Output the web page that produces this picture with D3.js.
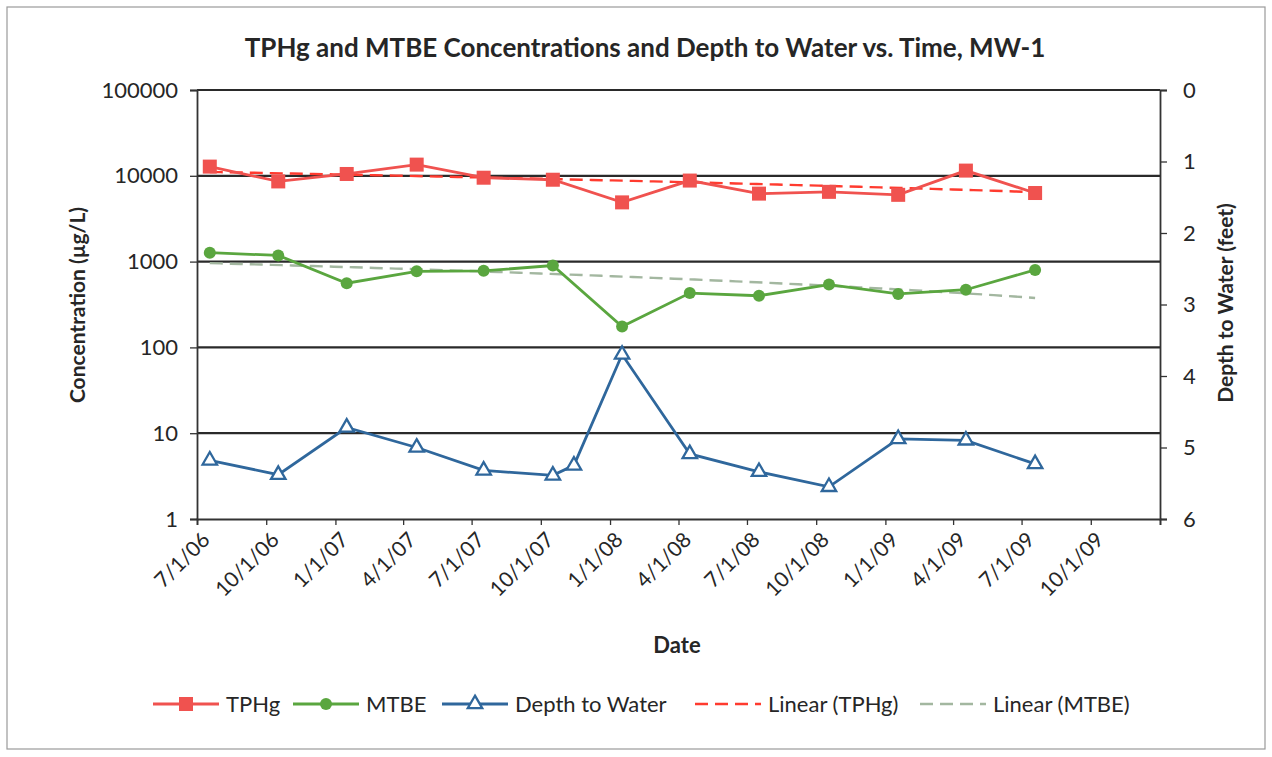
<html>
<head>
<title>MW-1 concentrations</title>
<script src="https://cdn.jsdelivr.net/npm/d3@7"></script>
<style>
    body { margin: 0; padding: 0; background: #fff; }
    text { font-family: Lato, "Open Sans", sans-serif; fill: #262626; }
</style>
</head>
<body>
<svg id="chart" width="1272" height="757"></svg>
<script>
// ---- data ----
const sampleDates = ["2006-07-18", "2006-10-17", "2007-01-16", "2007-04-19", "2007-07-17", "2007-10-17",
    "2008-01-17", "2008-04-16", "2008-07-17", "2008-10-18", "2009-01-18", "2009-04-18", "2009-07-19"];
const tphg = [12800, 8600, 10500, 13500, 9500, 9000, 4900, 8800, 6200, 6500, 6000, 11500, 6300];
const mtbe = [1270, 1180, 560, 770, 780, 900, 175, 430, 400, 540, 420, 470, 800];

const depthDates = ["2006-07-18", "2006-10-17", "2007-01-16", "2007-04-19", "2007-07-17", "2007-10-17", "2007-11-14",
    "2008-01-17", "2008-04-16", "2008-07-17", "2008-10-18", "2009-01-18", "2009-04-18", "2009-07-19"];
const depth = [5.18, 5.38, 4.72, 5.0, 5.32, 5.39, 5.25, 3.7, 5.09, 5.34, 5.55, 4.88, 4.9, 5.23];

const concTicks = [1, 10, 100, 1000, 10000, 100000];
const depthTicks = [0, 1, 2, 3, 4, 5, 6];
const dateRange = ["2006-07-01", "2010-01-01"];
const lastLabel = "2009-10-01";

const chartTitle = "TPHg and MTBE Concentrations and Depth to Water vs. Time, MW-1";
const legendNames = ["TPHg", "MTBE", "Depth to Water", "Linear (TPHg)", "Linear (MTBE)"];

const red = "#f0524f", green = "#5aa63f", blue = "#2f679c", redTrend = "#ff3b2f", greenTrend = "#a3b7a0";

// ---- setup ----
const svg = d3.select("#chart");
const plot = { left: 197, right: 1160, top: 90, bottom: 519 };
const parse = d3.timeParse("%Y-%m-%d");

const x = d3.scaleTime().domain(dateRange.map(parse)).range([plot.left, plot.right]);
const yConc = d3.scaleLog().domain([1, 100000]).range([plot.bottom, plot.top]);
const yDepth = d3.scaleLinear().domain([0, 6]).range([plot.top, plot.bottom]);

svg.append("rect")
    .attr("x", 7).attr("y", 7).attr("width", 1258).attr("height", 742)
    .attr("fill", "none").attr("stroke", "#9a9a9a").attr("stroke-width", 1.2);

svg.append("text")
    .attr("x", 645).attr("y", 57)
    .attr("text-anchor", "middle")
    .attr("font-size", 26).attr("font-weight", "bold")
    .text(chartTitle);

// gridlines
svg.append("g").selectAll("line").data(concTicks.slice(1))
    .join("line")
    .attr("x1", plot.left).attr("x2", plot.right)
    .attr("y1", d => yConc(d)).attr("y2", d => yConc(d))
    .attr("stroke", "#2a2a2a").attr("stroke-width", 2.2);

// axes
const leftAxis = svg.append("g")
    .attr("transform", "translate(" + plot.left + ",0)")
    .call(d3.axisLeft(yConc).tickValues(concTicks).tickFormat(d3.format("d")).tickSize(7).tickPadding(12));

const rightAxis = svg.append("g")
    .attr("transform", "translate(" + plot.right + ",0)")
    .call(d3.axisRight(yDepth).tickValues(depthTicks).tickFormat(d3.format("d")).tickSize(7).tickPadding(16));

const xTicks = d3.timeMonth.every(3).range(parse(dateRange[0]), d3.timeDay.offset(parse(dateRange[1]), 1));
const bottomAxis = svg.append("g")
    .attr("transform", "translate(0," + plot.bottom + ")")
    .call(d3.axisBottom(x).tickValues(xTicks).tickSize(6).tickFormat(""));

[leftAxis, rightAxis, bottomAxis].forEach(g => {
    g.select(".domain").attr("stroke", "#333").attr("stroke-width", 1.8);
    g.selectAll(".tick line").attr("stroke", "#333").attr("stroke-width", 1.3);
    g.selectAll(".tick text").attr("font-size", 22).attr("font-family", "Lato, sans-serif").attr("fill", "#262626");
});

// rotated date labels
const fmt = d3.timeFormat("%-m/%-d/%y");
svg.append("g").selectAll("text").data(xTicks.filter(d => d <= parse(lastLabel)))
    .join("text")
    .attr("transform", d => "translate(" + (x(d) + 9) + "," + (plot.bottom + 17) + ") rotate(-45)")
    .attr("text-anchor", "end")
    .attr("dy", "0.35em")
    .attr("font-size", 21)
    .text(d => fmt(d));

// axis titles
svg.append("text")
    .attr("x", 677).attr("y", 653)
    .attr("text-anchor", "middle")
    .attr("font-size", 22).attr("font-weight", "bold")
    .text("Date");

svg.append("text")
    .attr("transform", "translate(85,305) rotate(-90)")
    .attr("text-anchor", "middle")
    .attr("font-size", 21).attr("font-weight", "bold")
    .text("Concentration (µg/L)");

svg.append("text")
    .attr("transform", "translate(1233,303) rotate(-90)")
    .attr("text-anchor", "middle")
    .attr("font-size", 21).attr("font-weight", "bold")
    .text("Depth to Water (feet)");

// ---- linear trendlines (least squares on the plotted data) ----
function linFit(ts, vs) {
    const mt = d3.mean(ts), mv = d3.mean(vs);
    const b = d3.sum(ts, (t, i) => (t - mt) * (vs[i] - mv)) / d3.sum(ts, t => (t - mt) * (t - mt));
    return t => mv + b * (t - mt);
}
const sampleT = sampleDates.map(d => +parse(d));
const t0 = d3.min(sampleT), t1 = d3.max(sampleT);
const steps = d3.range(0, 81).map(i => t0 + (t1 - t0) * i / 80);

const trendLine = d3.line().x(d => x(new Date(d[0]))).y(d => yConc(d[1]));
const tphgFit = linFit(sampleT, tphg);
const mtbeFit = linFit(sampleT, mtbe);

svg.append("path")
    .attr("d", trendLine(steps.map(t => [t, tphgFit(t)])))
    .attr("fill", "none").attr("stroke", redTrend).attr("stroke-width", 2.4)
    .attr("stroke-dasharray", "13,7");

svg.append("path")
    .attr("d", trendLine(steps.map(t => [t, mtbeFit(t)])))
    .attr("fill", "none").attr("stroke", greenTrend).attr("stroke-width", 2.4)
    .attr("stroke-dasharray", "13,7");

// ---- series ----
const concLine = d3.line().x((d, i) => x(parse(sampleDates[i]))).y(d => yConc(d));
const depthLine = d3.line().x((d, i) => x(parse(depthDates[i]))).y(d => yDepth(d));

svg.append("path").attr("d", concLine(tphg))
    .attr("fill", "none").attr("stroke", red).attr("stroke-width", 2.8);
svg.append("g").selectAll("rect").data(tphg)
    .join("rect")
    .attr("x", (d, i) => x(parse(sampleDates[i])) - 7)
    .attr("y", d => yConc(d) - 7)
    .attr("width", 14).attr("height", 14)
    .attr("fill", red);

svg.append("path").attr("d", concLine(mtbe))
    .attr("fill", "none").attr("stroke", green).attr("stroke-width", 2.8);
svg.append("g").selectAll("circle").data(mtbe)
    .join("circle")
    .attr("cx", (d, i) => x(parse(sampleDates[i])))
    .attr("cy", d => yConc(d))
    .attr("r", 6)
    .attr("fill", green);

const tri = d3.symbol().type(d3.symbolTriangle).size(90);
svg.append("path").attr("d", depthLine(depth))
    .attr("fill", "none").attr("stroke", blue).attr("stroke-width", 2.8);
svg.append("g").selectAll("path").data(depth)
    .join("path")
    .attr("transform", (d, i) => "translate(" + x(parse(depthDates[i])) + "," + yDepth(d) + ")")
    .attr("d", tri)
    .attr("fill", "#fff").attr("stroke", blue).attr("stroke-width", 2.3);

// ---- legend ----
const legendY = 704;
const legendX = [153, 293, 442, 695, 920];
const legend = svg.append("g");
legendNames.forEach((name, i) => {
    const g = legend.append("g").attr("transform", "translate(" + legendX[i] + "," + legendY + ")");
    const colour = [red, green, blue, redTrend, greenTrend][i];
    const line = g.append("line").attr("x1", 0).attr("x2", 66).attr("y1", 0).attr("y2", 0)
        .attr("stroke", colour).attr("stroke-width", 2.8);
    if (i >= 3) line.attr("stroke-dasharray", "13,7").attr("stroke-width", 2.4);
    if (i === 0) g.append("rect").attr("x", 26).attr("y", -7).attr("width", 14).attr("height", 14).attr("fill", red);
    if (i === 1) g.append("circle").attr("cx", 33).attr("cy", 0).attr("r", 6).attr("fill", green);
    if (i === 2) g.append("path").attr("transform", "translate(33,0)").attr("d", tri)
        .attr("fill", "#fff").attr("stroke", blue).attr("stroke-width", 2.3);
    g.append("text").attr("x", 73).attr("y", 0).attr("dy", "0.35em")
        .attr("font-size", 22).text(name);
});
</script>
</body>
</html>
